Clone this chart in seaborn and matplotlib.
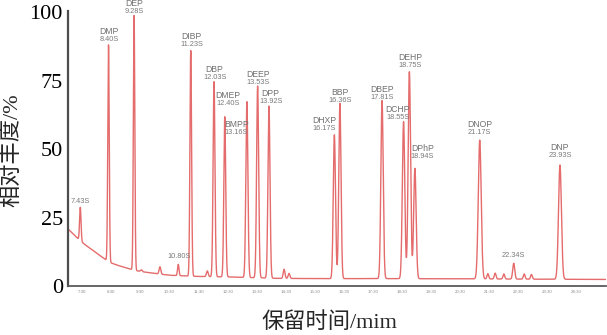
import numpy as np
import pandas as pd
import seaborn as sns
import matplotlib
matplotlib.use("Agg")
import matplotlib.pyplot as plt

# ---- chromatogram data (retention time in min, relative abundance in %) ----
# labelled peaks
peak_names = ["", "DMP", "DEP", "", "DIBP", "DBP", "DMEP", "BMPP", "DEEP", "DPP",
              "DHXP", "BBP", "DBEP", "DCHP", "DEHP", "DPhP", "DNOP", "", "DNP"]
peak_times = [7.43, 8.40, 9.28, 10.80, 11.23, 12.03, 12.40, 13.16, 13.53, 13.92,
              16.17, 16.36, 17.81, 18.55, 18.75, 18.94, 21.17, 22.34, 23.93]
peak_heights = [28.8, 88.0, 98.7, 8.0, 85.9, 74.6, 61.8, 67.3, 73.0, 65.7,
                55.2, 66.7, 67.7, 60.0, 78.2, 43.0, 53.3, 8.4, 44.2]

# small unlabelled peaks
minor_times = [9.53, 10.17, 11.80, 14.44, 14.61, 21.45, 21.70, 22.00, 22.70, 22.95]
minor_heights = [6.0, 7.1, 5.6, 6.2, 4.7, 4.6, 4.8, 4.5, 4.5, 4.3]

# baseline drift
base_times = [7.00, 7.20, 7.42, 7.60, 7.79, 8.00, 8.25, 8.47, 8.70, 8.93, 9.27,
              9.50, 9.85, 10.20, 10.54, 11.00, 11.45, 12.60, 14.20, 15.58, 18.00,
              21.00, 23.00, 25.50]
base_levels = [21.0, 18.9, 16.7, 15.1, 13.7, 12.0, 10.1, 8.6, 7.7, 7.0, 5.9,
               5.4, 4.9, 4.4, 4.0, 3.8, 3.6, 3.4, 2.9, 2.8, 2.8,
               2.7, 2.6, 2.5]

# x tick labels
tick_times = [7.5 + i for i in range(18)]
tick_labels = [f"{int(t)}:30" for t in tick_times]

# ---- peak widths (gaussian sigma, min) ----
peak_sigma = [0.025, 0.025, 0.025, 0.025, 0.028, 0.032, 0.032, 0.035, 0.035, 0.035,
              0.038, 0.038, 0.04, 0.042, 0.042, 0.042, 0.05, 0.035, 0.05]
minor_sigma = 0.03

# label offsets in pixels (dx, dy of the time line above the apex)
label_offsets = [(0, 5.6), (0.6, 5.3), (0.6, 3.7), (0.7, 8), (0.7, 5.7), (0.6, 3.7),
                 (3.4, 13.7), (-10.7, -30.6), (0.6, 4), (1.7, 4.3), (-10.3, 6),
                 (0, 3.3), (0, 3.4), (-6, 4.4), (0.7, 6.7), (7.4, 11.6), (0, 7.7),
                 (0, 7.6), (0, 10)]

# ---- build trace ----
t = np.arange(7.0, 25.5, 0.002)
base = np.interp(t, base_times, base_levels)
signal = base.copy()
for tp, hp, s in zip(peak_times, peak_heights, peak_sigma):
    amp = hp - np.interp(tp, base_times, base_levels)
    signal += amp * np.exp(-0.5 * ((t - tp) / s) ** 2)
for tp, hp in zip(minor_times, minor_heights):
    amp = hp - np.interp(tp, base_times, base_levels)
    signal += amp * np.exp(-0.5 * ((t - tp) / minor_sigma) ** 2)
df = pd.DataFrame({"time": t, "abundance": signal})

# ---- figure ----
sns.set_style("white")
plt.rcParams["font.family"] = ["Liberation Serif", "Noto Sans CJK SC"]

W, H = 607, 335
fig = plt.figure(figsize=(W / 100, H / 100), dpi=100)
ax = fig.add_axes([67.8 / W, (H - 286.3) / H, 537.8 / W, 275.4 / H])

sns.lineplot(data=df, x="time", y="abundance", color="#e25c5c", lw=1.0,
             alpha=0.9, estimator=None, ax=ax)

ax.set_xlim(7.0, 25.5)
ax.set_ylim(0, 100.4)
ax.set_xlabel("")
ax.set_ylabel("")

for side in ["top", "right"]:
    ax.spines[side].set_visible(False)
ax.spines["left"].set_color("#4d4d4d")
ax.spines["left"].set_linewidth(1.6)
ax.spines["bottom"].set_color("#5a5a5a")
ax.spines["bottom"].set_linewidth(1.3)

ax.set_yticks([0, 25, 50, 75, 100])
ax.set_yticklabels(["0", "25", "50", "75", "100"])
ax.tick_params(axis="y", length=0, pad=3.5, labelsize=16, labelcolor="black")
ax.set_xticks(tick_times)
ax.set_xticklabels(tick_labels)
ax.tick_params(axis="x", length=1.5, width=0.5, color="#999999", pad=1.5,
               labelsize=3.2, labelcolor="#8c8c8c")
for lab in ax.get_xticklabels():
    lab.set_family("Liberation Sans")

# peak annotations
px2pt = 0.72
for name, tp, hp, (dx, dy) in zip(peak_names, peak_times, peak_heights, label_offsets):
    ax.annotate(f"{tp:.2f}S", xy=(tp, hp), xytext=(dx * px2pt, dy * px2pt),
                textcoords="offset points", ha="center", va="center",
                fontsize=5.3, color="#7a7a7a", family="Liberation Sans")
    if name:
        ax.annotate(name, xy=(tp, hp), xytext=(dx * px2pt, (dy + 8) * px2pt),
                    textcoords="offset points", ha="center", va="center",
                    fontsize=6.2, color="#707070", family="Liberation Sans")

fig.text(329 / W, 1 - 322.5 / H, "保留时间/mim", ha="center", va="center", fontsize=16)
fig.text(13 / W, 1 - 150 / H, "相对丰度/%", ha="center", va="center",
         rotation=90, fontsize=16)

fig.savefig("out.png", dpi=100)
